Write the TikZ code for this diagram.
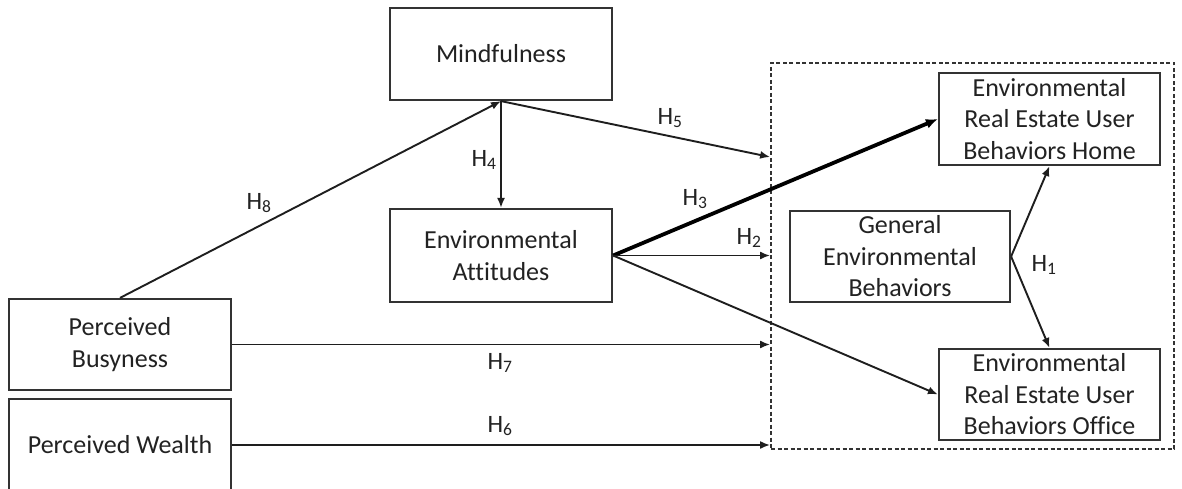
\documentclass[tikz,border=0pt]{standalone}
\usepackage{fontspec}
\setmainfont{Carlito}[Ligatures=NoCommon]
\usetikzlibrary{arrows.meta}
\definecolor{boxc}{HTML}{333333}
\definecolor{txtc}{HTML}{222222}
\definecolor{linec}{HTML}{1E1E1E}
\begin{document}
\begin{tikzpicture}[x=1pt,y=-1pt,
  box/.style={draw=boxc, line width=2.2pt, rectangle, align=center, inner sep=0pt,
    text=txtc, font=\fontsize{26}{31.5}\selectfont},
  grpbox/.style={draw=boxc, line width=1.8pt, dash pattern=on 4pt off 2.5pt, rectangle, inner sep=0pt},
  conn/.style={draw=linec, line width=1.9pt, -{Latex[length=10pt,width=8pt]}},
  thick conn/.style={draw=black, line width=3.8pt, -{Latex[length=12pt,width=10pt]}},
  hlab/.style={text=txtc, font=\fontsize{25}{30}\selectfont, inner sep=0pt}]
\useasboundingbox (0,0) rectangle (1182,489);
\fill[white] (0,0) rectangle (1182,489);

% group (dashed)
\node[grpbox, minimum width=403pt, minimum height=386pt] (grp) at (972.5,256) {};

% nodes
\node[box, minimum width=222pt, minimum height=92pt] (mind) at (501,54) {Mindfulness};
\node[box, minimum width=222pt, minimum height=93pt] (att) at (501,255.5) {Environmental\\Attitudes};
\node[box, minimum width=222pt, minimum height=91pt] (busy) at (120,344.5) {Perceived\\Busyness};
\node[box, minimum width=222pt, minimum height=92pt] (wealth) at (120,445) {Perceived Wealth};
\node[box, minimum width=221pt, minimum height=92pt] (home) at (1049.5,119) {Environmental\\Real Estate User\\Behaviors Home};
\node[box, minimum width=220pt, minimum height=91pt] (gen) at (900,256.5) {General\\Environmental\\Behaviors};
\node[box, minimum width=221pt, minimum height=91pt] (office) at (1049.5,394.5) {Environmental\\Real Estate User\\Behaviors Office};

% connector end points on the dashed group
\coordinate (e5) at (grp.west |- 0,157);
\coordinate (e2) at (grp.west |- att.east);
\coordinate (e7) at (grp.west |- busy.east);
\coordinate (e6) at (grp.west |- wealth.east);

% connectors
\draw[conn] (busy.north) -- (mind.south);
\draw[conn] (mind.south) -- (att.north);
\draw[conn] (mind.south) -- (e5);
\draw[thick conn] (att.east) -- (home.west);
\draw[conn] (att.east) -- (e2);
\draw[conn] (att.east) -- (office.west);
\draw[conn] (busy.east) -- (e7);
\draw[conn] (wealth.east) -- (e6);
\draw[conn] (gen.east) -- (home.south);
\draw[conn] (gen.east) -- (office.north);

% labels
\node[hlab] (l8) at (259,203) {H\textsubscript{8}};
\node[hlab] (l4) at (484,160) {H\textsubscript{4}};
\node[hlab] (l5) at (670,118) {H\textsubscript{5}};
\node[hlab] (l3) at (695,199) {H\textsubscript{3}};
\node[hlab] (l2) at (749,238) {H\textsubscript{2}};
\node[hlab] (l1) at (1044,265) {H\textsubscript{1}};
\node[hlab] (l7) at (500,363) {H\textsubscript{7}};
\node[hlab] (l6) at (500,426) {H\textsubscript{6}};
\end{tikzpicture}
\end{document}
